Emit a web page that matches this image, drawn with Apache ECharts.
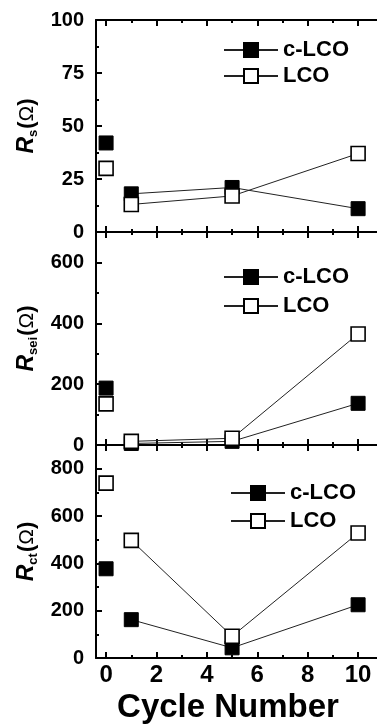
<!DOCTYPE html>
<html>
<head>
<meta charset="utf-8">
<script src="https://cdn.jsdelivr.net/npm/echarts@6/dist/echarts.min.js"></script>
<style>html,body{margin:0;padding:0;background:#fff;}#c{width:377px;height:727px;}</style>
</head>
<body>
<div id="c"></div>
<script>
// ---- data ----
const cycles = [0, 1, 5, 10];
const rsC = [42, 18, 21, 11];
const rsL = [30, 13, 17, 37];
const rseiC = [187, 5, 12, 137];
const rseiL = [135, 12, 22, 365];
const rctC = [377, 162, 43, 225];
const rctL = [739, 497, 92, 528];
const seriesNames = ['c-LCO', 'LCO'];
const xMajor = [0, 2, 4, 6, 8, 10];
const xMinor = [1, 3, 5, 7, 9];
const yMajor = [[0, 25, 50, 75, 100], [0, 200, 400, 600], [0, 200, 400, 600, 800]];
const yMinor = [[12.5, 37.5, 62.5, 87.5], [100, 300, 500], [100, 300, 500, 700]];
const yMax = [100, 700, 900];
const yNames = [['R', 's'], ['R', 'sei'], ['R', 'ct']];
const panelValues = [[rsC, rsL], [rseiC, rseiL], [rctC, rctL]];

const FONT = 'Liberation Sans, Arial, sans-serif';
const grids = [
  { left: 96, right: 0, top: 20, height: 212 },
  { left: 96, right: 0, top: 232, height: 213 },
  { left: 96, right: 0, top: 445, height: 213 }
];
const legendPos = [
  { left: 223, top: 39, itemGap: 4 },
  { left: 223, top: 266, itemGap: 7 },
  { left: 230, top: 482, itemGap: 6 }
];

const xAxes = [], yAxes = [], series = [], legends = [];
const lineW = 2;
for (let g = 0; g < 3; g++) {
  const base = {
    gridIndex: g, type: 'value', min: -0.4, max: 10.75,
    splitLine: { show: false }
  };
  const mk = (pos, major, showLine) => Object.assign({}, base, {
    position: pos,
    axisLine: { show: showLine, onZero: false, lineStyle: { color: '#000', width: lineW } },
    axisTick: { show: true, inside: true, length: major ? 6 : 3, customValues: major ? xMajor : xMinor,
      lineStyle: { color: '#000', width: lineW } },
    axisLabel: { show: false }
  });
  const bottomMajor = mk('bottom', true, true);
  if (g === 2) {
    bottomMajor.axisLabel = { show: true, customValues: xMajor, margin: 5, color: '#000',
      fontFamily: FONT, fontWeight: 'bold', fontSize: 24 };
    bottomMajor.name = 'Cycle Number';
    bottomMajor.nameLocation = 'middle';
    bottomMajor.nameGap = 33;
    bottomMajor.nameTextStyle = { color: '#000', fontFamily: FONT, fontWeight: 'bold', fontSize: 33, padding: [0, 17, 0, 0] };
  }
  xAxes.push(bottomMajor, mk('bottom', false, false), mk('top', true, true), mk('top', false, false));

  const yBase = { gridIndex: g, type: 'value', min: 0, max: yMax[g], position: 'left', splitLine: { show: false } };
  yAxes.push(Object.assign({}, yBase, {
    axisLine: { show: true, onZero: false, lineStyle: { color: '#000', width: lineW } },
    axisTick: { show: true, inside: true, length: 6, customValues: yMajor[g], lineStyle: { color: '#000', width: lineW } },
    axisLabel: { show: true, customValues: yMajor[g], margin: 12, color: '#000', fontFamily: FONT, fontWeight: 'bold', fontSize: 20 },
    name: '{r|' + yNames[g][0] + '}{s|' + yNames[g][1] + '}{p|(}{o|Ω}{p|)}',
    nameLocation: 'middle', nameRotate: 90, nameGap: 56,
    nameTextStyle: {
      color: '#000', fontFamily: FONT,
      rich: {
        r: { fontStyle: 'italic', fontWeight: 'bold', fontSize: 23, fontFamily: FONT, color: '#000', lineHeight: 26 },
        s: { fontWeight: 'bold', fontSize: 13, fontFamily: FONT, color: '#000', lineHeight: 26, verticalAlign: 'bottom', padding: [0, 1, 0, 0] },
        p: { fontWeight: 'bold', fontSize: 22, fontFamily: FONT, color: '#000', lineHeight: 26 },
        o: { fontWeight: 'normal', fontSize: 21, fontFamily: FONT, color: '#000', lineHeight: 26 }
      }
    }
  }));
  yAxes.push(Object.assign({}, yBase, {
    axisLine: { show: false, onZero: false },
    axisTick: { show: true, inside: true, length: 3, customValues: yMinor[g], lineStyle: { color: '#000', width: lineW } },
    axisLabel: { show: false }
  }));

  for (let s = 0; s < 2; s++) {
    const vals = panelValues[g][s];
    const filled = s === 0;
    const common = {
      name: seriesNames[s], type: 'line', xAxisIndex: g * 4, yAxisIndex: g * 2,
      symbol: 'rect', symbolSize: 14, showSymbol: true, clip: false, animation: false,
      z: filled ? 2 : 3,
      lineStyle: { color: '#222', width: 1 },
      itemStyle: { color: filled ? '#000' : '#fff', borderColor: '#000', borderWidth: filled ? 1 : 1.6 }
    };
    series.push(Object.assign({}, common, {
      data: cycles.slice(1).map((c, i) => [c, vals[i + 1]])
    }));
    series.push(Object.assign({}, common, {
      data: [[cycles[0], vals[0]]]
    }));
  }
  legends.push({
    orient: 'vertical', left: legendPos[g].left, top: legendPos[g].top, itemGap: legendPos[g].itemGap,
    padding: 0, itemWidth: 54, itemHeight: 17.5, selectedMode: false, data: seriesNames,
    textStyle: { color: '#000', fontFamily: FONT, fontWeight: 'bold', fontSize: 22 }
  });
}

const chart = echarts.init(document.getElementById('c'), null, { renderer: 'canvas' });
chart.setOption({
  backgroundColor: '#fff',
  animation: false,
  grid: grids,
  xAxis: xAxes,
  yAxis: yAxes,
  legend: legends,
  series: series
});
</script>
</body>
</html>
